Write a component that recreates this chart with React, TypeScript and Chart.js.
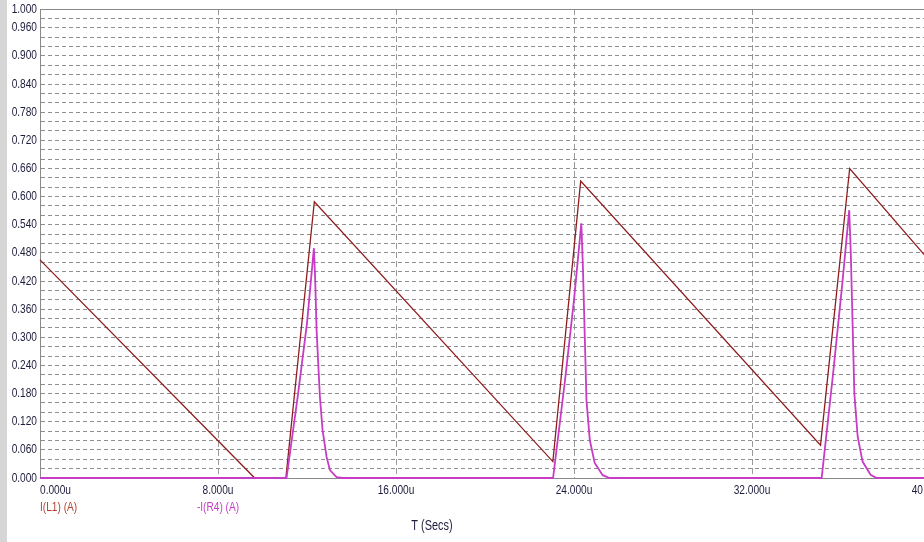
import React, { useEffect, useRef } from 'react';
import { Chart, registerables } from 'chart.js';

Chart.register(...registerables);

// ---- data ----
const xTickValues = [0, 8, 16, 24, 32, 40];
const xTickLabels = ['0.000u', '8.000u', '16.000u', '24.000u', '32.000u', '40.000u'];

const yLabelValues = [0, 0.06, 0.12, 0.18, 0.24, 0.3, 0.36, 0.42, 0.48, 0.54, 0.6, 0.66, 0.72, 0.78, 0.84, 0.9, 0.96, 1.0];
const yLabelTexts = ['0.000', '0.060', '0.120', '0.180', '0.240', '0.300', '0.360', '0.420', '0.480', '0.540', '0.600', '0.660', '0.720', '0.780', '0.840', '0.900', '0.960', '1.000'];
const yGridValues = [
  0, 0.02, 0.04, 0.06, 0.08, 0.1, 0.12, 0.14, 0.16, 0.18, 0.2, 0.22, 0.24, 0.26, 0.28, 0.3, 0.32,
  0.34, 0.36, 0.38, 0.4, 0.42, 0.44, 0.46, 0.48, 0.5, 0.52, 0.54, 0.56, 0.58, 0.6, 0.62, 0.64, 0.66,
  0.68, 0.7, 0.72, 0.74, 0.76, 0.78, 0.8, 0.82, 0.84, 0.86, 0.88, 0.9, 0.92, 0.94, 0.96, 0.98, 1.0,
];

const seriesNames = ['I(L1) (A)', '-I(R4) (A)'];
const xAxisTitle = 'T (Secs)';

// I(L1) in A, time in microseconds
const iL1Time = [0, 9.65, 11.05, 12.33, 23.05, 24.3, 35.08, 36.39, 40];
const iL1Value = [0.465, 0, 0, 0.589, 0.035, 0.633, 0.07, 0.66, 0.462];

// -I(R4) in A, time in microseconds
const iR4Time = [
  0, 11.08, 11.6, 12.0, 12.31, 12.37, 12.43, 12.58, 12.7, 12.88, 13.03, 13.33, 13.6,
  23.06, 23.6, 24.0, 24.33, 24.4, 24.48, 24.56, 24.71, 24.93, 25.29, 25.6,
  35.13, 35.65, 36.05, 36.37, 36.44, 36.52, 36.6, 36.75, 36.97, 37.33, 37.6, 40,
];
const iR4Value = [
  0, 0, 0.18, 0.33, 0.49, 0.42, 0.316, 0.173, 0.102, 0.045, 0.017, 0.002, 0,
  0, 0.21, 0.38, 0.543, 0.45, 0.309, 0.166, 0.081, 0.032, 0.006, 0,
  0, 0.225, 0.41, 0.571, 0.48, 0.33, 0.18, 0.088, 0.035, 0.007, 0, 0,
];

const FONT = '"Liberation Sans", Arial, sans-serif';
const TICK_COLOR = '#1c1c3c';
const L1_COLOR = '#8e1e1e';
const L1_TEXT = '#b0402a';
const R4_COLOR = '#c63cc6';
const NARROW = 0.78;

function narrowText(ctx: any, text: string, x: number, y: number, align: string, color: string, size: number) {
  ctx.save();
  ctx.font = size + 'px ' + FONT;
  ctx.textBaseline = 'middle';
  ctx.textAlign = align;
  ctx.fillStyle = color;
  ctx.translate(x, y);
  ctx.scale(NARROW, 1);
  ctx.fillText(text, 0, 0);
  ctx.restore();
}

const textPlugin = {
  id: 'textPlugin',
  beforeDatasetsDraw(chart: any) {
    const { ctx, chartArea } = chart;
    ctx.save();
    ctx.strokeStyle = '#8a8a8a';
    ctx.lineWidth = 1;
    ctx.beginPath();
    ctx.moveTo(chartArea.left, chartArea.top + 0.5);
    ctx.lineTo(chartArea.right, chartArea.top + 0.5);
    ctx.stroke();
    ctx.restore();
  },
  afterDraw(chart: any) {
    const { ctx, chartArea, scales } = chart;
    const x = scales.x;
    const y = scales.y;
    yLabelValues.forEach((v, i) => {
      narrowText(ctx, yLabelTexts[i], chartArea.left - 3, y.getPixelForValue(v), 'right', TICK_COLOR, 13);
    });
    xTickValues.forEach((v, i) => {
      narrowText(ctx, xTickLabels[i], x.getPixelForValue(v), chartArea.bottom + 12, i === 0 ? 'left' : 'center', TICK_COLOR, 13);
    });
    narrowText(ctx, seriesNames[0], x.getPixelForValue(0), chartArea.bottom + 29, 'left', L1_TEXT, 13);
    narrowText(ctx, seriesNames[1], x.getPixelForValue(8), chartArea.bottom + 29, 'center', R4_COLOR, 13);
    narrowText(ctx, xAxisTitle, chartArea.left + 392, chartArea.bottom + 48, 'center', TICK_COLOR, 14);
  },
};

export default function App() {
  const canvasRef = useRef<HTMLCanvasElement | null>(null);

  useEffect(() => {
    const canvas = canvasRef.current;
    if (!canvas) return;
    const chart = new Chart(canvas, {
      type: 'line',
      data: {
        datasets: [
          {
            label: seriesNames[1],
            data: iR4Time.map((t, i) => ({ x: t, y: iR4Value[i] })),
            borderColor: R4_COLOR,
            borderWidth: 1.8,
            pointRadius: 0,
            tension: 0,
            fill: false,
            order: 0,
            clip: 3,
          },
          {
            label: seriesNames[0],
            data: iL1Time.map((t, i) => ({ x: t, y: iL1Value[i] })),
            borderColor: L1_COLOR,
            borderWidth: 1.3,
            pointRadius: 0,
            tension: 0,
            fill: false,
            order: 1,
            clip: 3,
          },
        ],
      },
      options: {
        animation: false,
        responsive: false,
        devicePixelRatio: 1,
        layout: { padding: { top: 9, right: 1, left: 0, bottom: 0 } },
        plugins: {
          legend: { display: false },
          tooltip: { enabled: false },
          title: { display: false },
        },
        scales: {
          x: {
            type: 'linear',
            min: 0,
            max: 40,
            afterBuildTicks: (scale: any) => {
              scale.ticks = xTickValues.map((v) => ({ value: v }));
            },
            afterFit: (scale: any) => {
              scale.height = 64;
              scale.paddingLeft = 0;
              scale.paddingRight = 0;
            },
            ticks: { display: false, autoSkip: false },
            grid: { color: '#9a9a9a', lineWidth: 1, drawTicks: false },
            border: { display: true, color: '#8a8a8a', width: 1, dash: [6, 3] },
          },
          y: {
            type: 'linear',
            min: 0,
            max: 1,
            afterBuildTicks: (scale: any) => {
              scale.ticks = yGridValues.map((v) => ({ value: v }));
            },
            afterFit: (scale: any) => {
              scale.width = 33;
              scale.paddingTop = 0;
              scale.paddingBottom = 0;
            },
            ticks: { display: false, autoSkip: false },
            grid: { color: '#8f8f8f', lineWidth: 1, drawTicks: false },
            border: { display: true, color: '#8a8a8a', width: 1, dash: [4, 3] },
          },
        },
      },
      plugins: [textPlugin],
    } as any);
    return () => chart.destroy();
  }, []);

  return (
    <div
      style={{
        position: 'fixed',
        left: 0,
        top: 0,
        width: 924,
        height: 542,
        overflow: 'hidden',
        background: '#d6d6d6',
      }}
    >
      <div style={{ position: 'absolute', left: 7, top: 0, width: 924, height: 542, background: '#ffffff' }}>
        <canvas ref={canvasRef} width={924} height={542} style={{ display: 'block', width: 924, height: 542 }} />
      </div>
    </div>
  );
}
